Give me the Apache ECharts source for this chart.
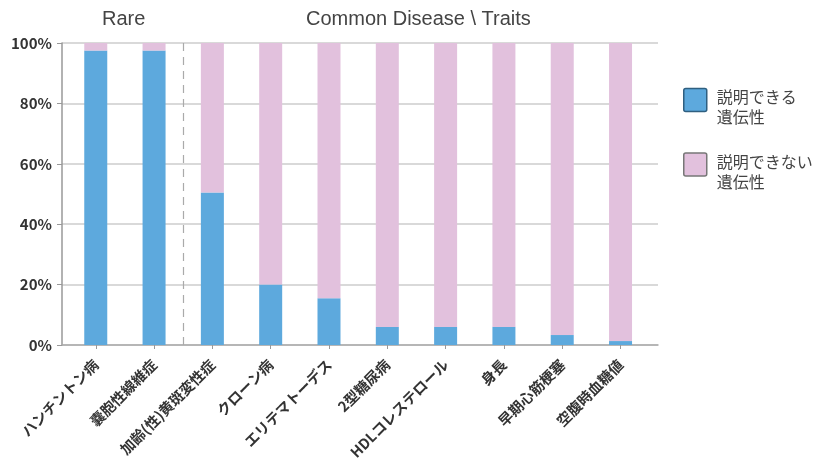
<!DOCTYPE html>
<html><head><meta charset="utf-8">
<script src="https://cdn.jsdelivr.net/npm/echarts@6/dist/echarts.min.js"></script>
<style>html,body{margin:0;padding:0;background:#fff}#c{width:821px;height:467px}</style>
</head><body><div id="c"></div>
<script>
var categories = ['ハンチントン病','嚢胞性線維症','加齢(性)黄斑変性症','クローン病','エリテマトーデス','2型糖尿病','HDLコレステロール','身長','早期心筋梗塞','空腹時血糖値'];
var explained = [97.5, 97.5, 50.5, 20, 15.5, 6, 6, 6, 3.3, 1.3];
var unexplained = explained.map(function(v){ return +(100 - v).toFixed(1); });
var yTicks = [0, 20, 40, 60, 80, 100];
var groupLabels = ['Rare', 'Common Disease \\ Traits'];
var legendNames = ['説明できる\n遺伝性', '説明できない\n遺伝性'];
var dividerAt = 2;

var font = '"Noto Sans CJK JP", "Noto Sans", sans-serif';
var chart = echarts.init(document.getElementById('c'));
chart.setOption({
  animation: false,
  textStyle: {fontFamily: font},
  grid: [
    {left: 62, right: 163, top: 43, bottom: 122},
    {left: 66.6, right: 171.3, top: 43, bottom: 122}
  ],
  legend: {
    orient: 'vertical', left: 683, top: 75, padding: 0, itemWidth: 23, itemHeight: 23, itemGap: 14.5,
    icon: 'path://M2,0 L21,0 Q23,0 23,2 L23,21 Q23,23 21,23 L2,23 Q0,23 0,21 L0,2 Q0,0 2,0 Z',
    formatter: function (name) {
      return '{s| }\n' + name.split('\n').map(function (l) { return '{a|' + l + '}'; }).join('\n');
    },
    textStyle: {
      fontSize: 16, color: '#444', fontFamily: font,
      rich: {
        s: {lineHeight: 14, fontSize: 10},
        a: {fontSize: 16, lineHeight: 20, color: '#444', fontFamily: font, padding: [0, 0, 0, 5]}
      }
    },
    data: [
      {name: legendNames[0], itemStyle: {color: '#5DA9DD', borderColor: '#2f5f80', borderWidth: 1.5}},
      {name: legendNames[1], itemStyle: {color: '#E2C1DD', borderColor: '#777', borderWidth: 1.5}}
    ]
  },
  graphic: [
    {type: 'text', left: 102, top: 9, style: {text: groupLabels[0], font: '20px "Liberation Sans", Arial, sans-serif', fill: '#444'}},
    {type: 'text', left: 306, top: 9, style: {text: groupLabels[1], font: '20px "Liberation Sans", Arial, sans-serif', fill: '#444'}}
  ],
  xAxis: [{
    gridIndex: 0, type: 'value', min: 0, max: 1,
    axisLine: {show: true, lineStyle: {color: '#aaa', width: 1.5}},
    axisTick: {show: false}, axisLabel: {show: false}, splitLine: {show: false}
  }, {
    gridIndex: 1, type: 'category', data: categories,
    axisLine: {show: false},
    axisTick: {show: true, alignWithLabel: true, lineStyle: {color: '#999'}, length: 4},
    axisLabel: {rotate: 45, fontSize: 14.5, color: '#333', fontWeight: 'bold', interval: 0, margin: 17}
  }, {
    gridIndex: 1, type: 'value', min: 0, max: categories.length, show: false
  }],
  yAxis: [{
    gridIndex: 0, type: 'value', min: 0, max: 100, interval: 20,
    axisLine: {show: true, lineStyle: {color: '#999', width: 1.5}},
    axisTick: {show: true, length: 5, lineStyle: {color: '#999'}},
    axisLabel: {formatter: '{value}%', fontSize: 15, color: '#333', fontWeight: 'bold', margin: 10},
    splitLine: {lineStyle: {color: '#ccc', width: 1.5}}
  }, {
    gridIndex: 1, type: 'value', min: 0, max: 100, show: false
  }],
  series: [
    {name: legendNames[0], type: 'bar', stack: 's', xAxisIndex: 1, yAxisIndex: 1, data: explained, barWidth: 23, itemStyle: {color: '#5DA9DD'}},
    {name: legendNames[1], type: 'bar', stack: 's', xAxisIndex: 1, yAxisIndex: 1, data: unexplained, barWidth: 23, itemStyle: {color: '#E2C1DD'}},
    {type: 'line', xAxisIndex: 2, yAxisIndex: 1, data: [], silent: true,
      markLine: {symbol: 'none', silent: true, label: {show: false},
        lineStyle: {color: '#aaa', type: [8, 6], width: 1.2},
        data: [{xAxis: dividerAt}]}}
  ]
});
</script></body></html>
